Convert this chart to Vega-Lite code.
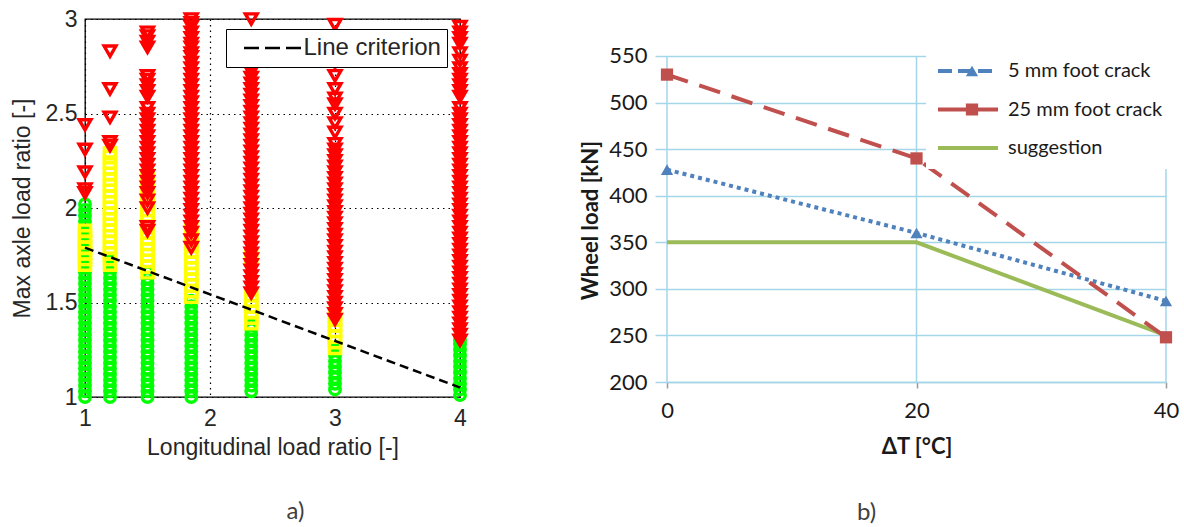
{
"$schema": "https://vega.github.io/schema/vega-lite/v6.json",
"autosize": {"type": "none"},
"padding": {"left": 85, "top": 19, "right": 1099, "bottom": 508},
"background": "white",
"bounds": "flush",
"spacing": 207,
"config": {"view": {"stroke": null}},
"resolve": {"scale": {"color": "independent", "shape": "independent", "size": "independent", "fill": "independent", "stroke": "independent"}},
"hconcat": [
{
"width": 375, "height": 378,
"view": {"stroke": "black", "strokeWidth": 1.3},
"title": {"text": "a)", "orient": "bottom", "anchor": "middle", "dx": 23, "offset": 41, "font": "Lato", "fontSize": 24, "fontWeight": "normal", "color": "#404040"},
"layer": [
{
"data": {"values": [
{"x":1,"y":1,"c":"g"},{"x":1,"y":1.03,"c":"g"},{"x":1,"y":1.06,"c":"g"},{"x":1,"y":1.09,"c":"g"},{"x":1,"y":1.12,"c":"g"},{"x":1,"y":1.15,"c":"g"},{"x":1,"y":1.18,"c":"g"},{"x":1,"y":1.21,"c":"g"},{"x":1,"y":1.24,"c":"g"},{"x":1,"y":1.27,"c":"g"},{"x":1,"y":1.3,"c":"g"},{"x":1,"y":1.33,"c":"g"},{"x":1,"y":1.36,"c":"g"},{"x":1,"y":1.39,"c":"g"},{"x":1,"y":1.42,"c":"g"},{"x":1,"y":1.45,"c":"g"},{"x":1,"y":1.48,"c":"g"},{"x":1,"y":1.51,"c":"g"},{"x":1,"y":1.54,"c":"g"},{"x":1,"y":1.57,"c":"g"},{"x":1,"y":1.6,"c":"g"},{"x":1,"y":1.63,"c":"g"},{"x":1,"y":1.66,"c":"g"},{"x":1,"y":1.69,"c":"g"},{"x":1,"y":1.72,"c":"g"},{"x":1,"y":1.75,"c":"g"},{"x":1,"y":1.78,"c":"g"},{"x":1,"y":1.81,"c":"g"},{"x":1,"y":1.84,"c":"g"},{"x":1,"y":1.87,"c":"g"},{"x":1,"y":1.9,"c":"g"},{"x":1,"y":1.93,"c":"g"},{"x":1,"y":1.96,"c":"g"},{"x":1,"y":1.99,"c":"g"},{"x":1,"y":2.02,"c":"g"},
{"x":1.2,"y":1,"c":"g"},{"x":1.2,"y":1.03,"c":"g"},{"x":1.2,"y":1.06,"c":"g"},{"x":1.2,"y":1.09,"c":"g"},{"x":1.2,"y":1.12,"c":"g"},{"x":1.2,"y":1.15,"c":"g"},{"x":1.2,"y":1.18,"c":"g"},{"x":1.2,"y":1.21,"c":"g"},{"x":1.2,"y":1.24,"c":"g"},{"x":1.2,"y":1.27,"c":"g"},{"x":1.2,"y":1.3,"c":"g"},{"x":1.2,"y":1.33,"c":"g"},{"x":1.2,"y":1.36,"c":"g"},{"x":1.2,"y":1.39,"c":"g"},{"x":1.2,"y":1.42,"c":"g"},{"x":1.2,"y":1.45,"c":"g"},{"x":1.2,"y":1.48,"c":"g"},{"x":1.2,"y":1.51,"c":"g"},{"x":1.2,"y":1.54,"c":"g"},{"x":1.2,"y":1.57,"c":"g"},{"x":1.2,"y":1.6,"c":"g"},{"x":1.2,"y":1.63,"c":"g"},{"x":1.2,"y":1.66,"c":"g"},{"x":1.2,"y":1.69,"c":"g"},{"x":1.2,"y":1.72,"c":"g"},
{"x":1.5,"y":1,"c":"g"},{"x":1.5,"y":1.03,"c":"g"},{"x":1.5,"y":1.06,"c":"g"},{"x":1.5,"y":1.09,"c":"g"},{"x":1.5,"y":1.12,"c":"g"},{"x":1.5,"y":1.15,"c":"g"},{"x":1.5,"y":1.18,"c":"g"},{"x":1.5,"y":1.21,"c":"g"},{"x":1.5,"y":1.24,"c":"g"},{"x":1.5,"y":1.27,"c":"g"},{"x":1.5,"y":1.3,"c":"g"},{"x":1.5,"y":1.33,"c":"g"},{"x":1.5,"y":1.36,"c":"g"},{"x":1.5,"y":1.39,"c":"g"},{"x":1.5,"y":1.42,"c":"g"},{"x":1.5,"y":1.45,"c":"g"},{"x":1.5,"y":1.48,"c":"g"},{"x":1.5,"y":1.51,"c":"g"},{"x":1.5,"y":1.54,"c":"g"},{"x":1.5,"y":1.57,"c":"g"},{"x":1.5,"y":1.6,"c":"g"},{"x":1.5,"y":1.63,"c":"g"},{"x":1.5,"y":1.66,"c":"g"},
{"x":1.85,"y":1,"c":"g"},{"x":1.85,"y":1.03,"c":"g"},{"x":1.85,"y":1.06,"c":"g"},{"x":1.85,"y":1.09,"c":"g"},{"x":1.85,"y":1.12,"c":"g"},{"x":1.85,"y":1.15,"c":"g"},{"x":1.85,"y":1.18,"c":"g"},{"x":1.85,"y":1.21,"c":"g"},{"x":1.85,"y":1.24,"c":"g"},{"x":1.85,"y":1.27,"c":"g"},{"x":1.85,"y":1.3,"c":"g"},{"x":1.85,"y":1.33,"c":"g"},{"x":1.85,"y":1.36,"c":"g"},{"x":1.85,"y":1.39,"c":"g"},{"x":1.85,"y":1.42,"c":"g"},{"x":1.85,"y":1.45,"c":"g"},{"x":1.85,"y":1.48,"c":"g"},{"x":1.85,"y":1.51,"c":"g"},
{"x":2.33,"y":1.03,"c":"g"},{"x":2.33,"y":1.06,"c":"g"},{"x":2.33,"y":1.09,"c":"g"},{"x":2.33,"y":1.12,"c":"g"},{"x":2.33,"y":1.15,"c":"g"},{"x":2.33,"y":1.18,"c":"g"},{"x":2.33,"y":1.21,"c":"g"},{"x":2.33,"y":1.24,"c":"g"},{"x":2.33,"y":1.27,"c":"g"},{"x":2.33,"y":1.3,"c":"g"},{"x":2.33,"y":1.33,"c":"g"},{"x":2.33,"y":1.36,"c":"g"},{"x":2.33,"y":1.38,"c":"g"},
{"x":3,"y":1.04,"c":"g"},{"x":3,"y":1.07,"c":"g"},{"x":3,"y":1.1,"c":"g"},{"x":3,"y":1.13,"c":"g"},{"x":3,"y":1.16,"c":"g"},{"x":3,"y":1.19,"c":"g"},{"x":3,"y":1.22,"c":"g"},{"x":3,"y":1.25,"c":"g"},
{"x":4,"y":1.01,"c":"g"},{"x":4,"y":1.04,"c":"g"},{"x":4,"y":1.07,"c":"g"},{"x":4,"y":1.1,"c":"g"},{"x":4,"y":1.13,"c":"g"},{"x":4,"y":1.16,"c":"g"},{"x":4,"y":1.19,"c":"g"},{"x":4,"y":1.22,"c":"g"},{"x":4,"y":1.25,"c":"g"},{"x":4,"y":1.28,"c":"g"},{"x":4,"y":1.3,"c":"g"},
{"x":1,"y":1.7,"c":"y"},{"x":1,"y":1.73,"c":"y"},{"x":1,"y":1.76,"c":"y"},{"x":1,"y":1.79,"c":"y"},{"x":1,"y":1.82,"c":"y"},{"x":1,"y":1.85,"c":"y"},{"x":1,"y":1.88,"c":"y"},
{"x":1.2,"y":1.7,"c":"y"},{"x":1.2,"y":1.73,"c":"y"},{"x":1.2,"y":1.76,"c":"y"},{"x":1.2,"y":1.79,"c":"y"},{"x":1.2,"y":1.82,"c":"y"},{"x":1.2,"y":1.85,"c":"y"},{"x":1.2,"y":1.88,"c":"y"},{"x":1.2,"y":1.91,"c":"y"},{"x":1.2,"y":1.94,"c":"y"},{"x":1.2,"y":1.97,"c":"y"},{"x":1.2,"y":2,"c":"y"},{"x":1.2,"y":2.03,"c":"y"},{"x":1.2,"y":2.06,"c":"y"},{"x":1.2,"y":2.09,"c":"y"},{"x":1.2,"y":2.12,"c":"y"},{"x":1.2,"y":2.15,"c":"y"},{"x":1.2,"y":2.18,"c":"y"},{"x":1.2,"y":2.21,"c":"y"},{"x":1.2,"y":2.24,"c":"y"},{"x":1.2,"y":2.27,"c":"y"},{"x":1.2,"y":2.29,"c":"y"},
{"x":1.5,"y":1.66,"c":"y"},{"x":1.5,"y":1.69,"c":"y"},{"x":1.5,"y":1.72,"c":"y"},{"x":1.5,"y":1.75,"c":"y"},{"x":1.5,"y":1.78,"c":"y"},{"x":1.5,"y":1.81,"c":"y"},{"x":1.5,"y":1.84,"c":"y"},{"x":1.5,"y":1.87,"c":"y"},{"x":1.5,"y":1.9,"c":"y"},{"x":1.5,"y":1.93,"c":"y"},{"x":1.5,"y":1.96,"c":"y"},{"x":1.5,"y":1.99,"c":"y"},{"x":1.5,"y":2.02,"c":"y"},{"x":1.5,"y":2.05,"c":"y"},{"x":1.5,"y":2.08,"c":"y"},{"x":1.5,"y":2.11,"c":"y"},{"x":1.5,"y":2.14,"c":"y"},{"x":1.5,"y":2.17,"c":"y"},
{"x":1.85,"y":1.53,"c":"y"},{"x":1.85,"y":1.56,"c":"y"},{"x":1.85,"y":1.59,"c":"y"},{"x":1.85,"y":1.62,"c":"y"},{"x":1.85,"y":1.65,"c":"y"},{"x":1.85,"y":1.68,"c":"y"},{"x":1.85,"y":1.71,"c":"y"},{"x":1.85,"y":1.74,"c":"y"},{"x":1.85,"y":1.77,"c":"y"},{"x":1.85,"y":1.8,"c":"y"},{"x":1.85,"y":1.83,"c":"y"},{"x":1.85,"y":1.86,"c":"y"},{"x":1.85,"y":1.89,"c":"y"},
{"x":2.33,"y":1.39,"c":"y"},{"x":2.33,"y":1.42,"c":"y"},{"x":2.33,"y":1.45,"c":"y"},{"x":2.33,"y":1.48,"c":"y"},{"x":2.33,"y":1.51,"c":"y"},{"x":2.33,"y":1.54,"c":"y"},{"x":2.33,"y":1.74,"c":"y"},
{"x":3,"y":1.26,"c":"y"},{"x":3,"y":1.29,"c":"y"},{"x":3,"y":1.32,"c":"y"},{"x":3,"y":1.35,"c":"y"},{"x":3,"y":1.38,"c":"y"},{"x":3,"y":1.41,"c":"y"},{"x":3,"y":1.44,"c":"y"},
{"x":1,"y":2.08,"c":"r"},{"x":1,"y":2.1,"c":"r"},{"x":1,"y":2.19,"c":"r"},{"x":1,"y":2.31,"c":"r"},{"x":1,"y":2.44,"c":"r"},
{"x":1.2,"y":2.33,"c":"r"},{"x":1.2,"y":2.35,"c":"r"},{"x":1.2,"y":2.48,"c":"r"},{"x":1.2,"y":2.63,"c":"r"},{"x":1.2,"y":2.83,"c":"r"},
{"x":1.5,"y":1.88,"c":"r"},{"x":1.5,"y":1.9,"c":"r"},{"x":1.5,"y":2,"c":"r"},{"x":1.5,"y":2.04,"c":"r"},{"x":1.5,"y":2.08,"c":"r"},{"x":1.5,"y":2.11,"c":"r"},{"x":1.5,"y":2.14,"c":"r"},{"x":1.5,"y":2.17,"c":"r"},{"x":1.5,"y":2.2,"c":"r"},{"x":1.5,"y":2.23,"c":"r"},{"x":1.5,"y":2.26,"c":"r"},{"x":1.5,"y":2.29,"c":"r"},{"x":1.5,"y":2.32,"c":"r"},{"x":1.5,"y":2.35,"c":"r"},{"x":1.5,"y":2.38,"c":"r"},{"x":1.5,"y":2.41,"c":"r"},{"x":1.5,"y":2.44,"c":"r"},{"x":1.5,"y":2.47,"c":"r"},{"x":1.5,"y":2.5,"c":"r"},{"x":1.5,"y":2.53,"c":"r"},{"x":1.5,"y":2.59,"c":"r"},{"x":1.5,"y":2.62,"c":"r"},{"x":1.5,"y":2.65,"c":"r"},{"x":1.5,"y":2.68,"c":"r"},{"x":1.5,"y":2.7,"c":"r"},{"x":1.5,"y":2.85,"c":"r"},{"x":1.5,"y":2.88,"c":"r"},{"x":1.5,"y":2.91,"c":"r"},{"x":1.5,"y":2.93,"c":"r"},
{"x":1.85,"y":1.79,"c":"r"},{"x":1.85,"y":1.83,"c":"r"},{"x":1.85,"y":1.87,"c":"r"},{"x":1.85,"y":1.9,"c":"r"},{"x":1.85,"y":1.93,"c":"r"},{"x":1.85,"y":1.96,"c":"r"},{"x":1.85,"y":1.99,"c":"r"},{"x":1.85,"y":2.02,"c":"r"},{"x":1.85,"y":2.05,"c":"r"},{"x":1.85,"y":2.08,"c":"r"},{"x":1.85,"y":2.11,"c":"r"},{"x":1.85,"y":2.14,"c":"r"},{"x":1.85,"y":2.17,"c":"r"},{"x":1.85,"y":2.2,"c":"r"},{"x":1.85,"y":2.23,"c":"r"},{"x":1.85,"y":2.26,"c":"r"},{"x":1.85,"y":2.29,"c":"r"},{"x":1.85,"y":2.32,"c":"r"},{"x":1.85,"y":2.35,"c":"r"},{"x":1.85,"y":2.38,"c":"r"},{"x":1.85,"y":2.41,"c":"r"},{"x":1.85,"y":2.44,"c":"r"},{"x":1.85,"y":2.47,"c":"r"},{"x":1.85,"y":2.5,"c":"r"},{"x":1.85,"y":2.53,"c":"r"},{"x":1.85,"y":2.56,"c":"r"},{"x":1.85,"y":2.59,"c":"r"},{"x":1.85,"y":2.62,"c":"r"},{"x":1.85,"y":2.65,"c":"r"},{"x":1.85,"y":2.68,"c":"r"},{"x":1.85,"y":2.71,"c":"r"},{"x":1.85,"y":2.74,"c":"r"},{"x":1.85,"y":2.77,"c":"r"},{"x":1.85,"y":2.8,"c":"r"},{"x":1.85,"y":2.82,"c":"r"},{"x":1.85,"y":2.85,"c":"r"},{"x":1.85,"y":2.87,"c":"r"},{"x":1.85,"y":2.9,"c":"r"},{"x":1.85,"y":2.93,"c":"r"},{"x":1.85,"y":2.96,"c":"r"},{"x":1.85,"y":2.98,"c":"r"},{"x":1.85,"y":3,"c":"r"},
{"x":2.33,"y":1.55,"c":"r"},{"x":2.33,"y":1.58,"c":"r"},{"x":2.33,"y":1.61,"c":"r"},{"x":2.33,"y":1.64,"c":"r"},{"x":2.33,"y":1.67,"c":"r"},{"x":2.33,"y":1.7,"c":"r"},{"x":2.33,"y":1.73,"c":"r"},{"x":2.33,"y":1.76,"c":"r"},{"x":2.33,"y":1.79,"c":"r"},{"x":2.33,"y":1.82,"c":"r"},{"x":2.33,"y":1.85,"c":"r"},{"x":2.33,"y":1.88,"c":"r"},{"x":2.33,"y":1.91,"c":"r"},{"x":2.33,"y":1.94,"c":"r"},{"x":2.33,"y":1.97,"c":"r"},{"x":2.33,"y":2,"c":"r"},{"x":2.33,"y":2.03,"c":"r"},{"x":2.33,"y":2.06,"c":"r"},{"x":2.33,"y":2.09,"c":"r"},{"x":2.33,"y":2.12,"c":"r"},{"x":2.33,"y":2.15,"c":"r"},{"x":2.33,"y":2.18,"c":"r"},{"x":2.33,"y":2.21,"c":"r"},{"x":2.33,"y":2.24,"c":"r"},{"x":2.33,"y":2.27,"c":"r"},{"x":2.33,"y":2.3,"c":"r"},{"x":2.33,"y":2.33,"c":"r"},{"x":2.33,"y":2.36,"c":"r"},{"x":2.33,"y":2.39,"c":"r"},{"x":2.33,"y":2.42,"c":"r"},{"x":2.33,"y":2.45,"c":"r"},{"x":2.33,"y":2.48,"c":"r"},{"x":2.33,"y":2.51,"c":"r"},{"x":2.33,"y":2.54,"c":"r"},{"x":2.33,"y":2.57,"c":"r"},{"x":2.33,"y":2.6,"c":"r"},{"x":2.33,"y":2.63,"c":"r"},{"x":2.33,"y":2.66,"c":"r"},{"x":2.33,"y":2.69,"c":"r"},{"x":2.33,"y":2.72,"c":"r"},{"x":2.33,"y":2.75,"c":"r"},{"x":2.33,"y":2.77,"c":"r"},{"x":2.33,"y":3,"c":"r"},
{"x":3,"y":1.41,"c":"r"},{"x":3,"y":1.44,"c":"r"},{"x":3,"y":1.47,"c":"r"},{"x":3,"y":1.5,"c":"r"},{"x":3,"y":1.53,"c":"r"},{"x":3,"y":1.56,"c":"r"},{"x":3,"y":1.59,"c":"r"},{"x":3,"y":1.62,"c":"r"},{"x":3,"y":1.65,"c":"r"},{"x":3,"y":1.68,"c":"r"},{"x":3,"y":1.71,"c":"r"},{"x":3,"y":1.74,"c":"r"},{"x":3,"y":1.77,"c":"r"},{"x":3,"y":1.8,"c":"r"},{"x":3,"y":1.83,"c":"r"},{"x":3,"y":1.86,"c":"r"},{"x":3,"y":1.89,"c":"r"},{"x":3,"y":1.92,"c":"r"},{"x":3,"y":1.95,"c":"r"},{"x":3,"y":1.98,"c":"r"},{"x":3,"y":2.01,"c":"r"},{"x":3,"y":2.04,"c":"r"},{"x":3,"y":2.07,"c":"r"},{"x":3,"y":2.1,"c":"r"},{"x":3,"y":2.13,"c":"r"},{"x":3,"y":2.16,"c":"r"},{"x":3,"y":2.19,"c":"r"},{"x":3,"y":2.22,"c":"r"},{"x":3,"y":2.25,"c":"r"},{"x":3,"y":2.28,"c":"r"},{"x":3,"y":2.31,"c":"r"},{"x":3,"y":2.34,"c":"r"},{"x":3,"y":2.4,"c":"r"},{"x":3,"y":2.45,"c":"r"},{"x":3,"y":2.5,"c":"r"},{"x":3,"y":2.55,"c":"r"},{"x":3,"y":2.58,"c":"r"},{"x":3,"y":2.63,"c":"r"},{"x":3,"y":2.7,"c":"r"},{"x":3,"y":2.77,"c":"r"},{"x":3,"y":2.97,"c":"r"},
{"x":4,"y":1.3,"c":"r"},{"x":4,"y":1.33,"c":"r"},{"x":4,"y":1.36,"c":"r"},{"x":4,"y":1.39,"c":"r"},{"x":4,"y":1.42,"c":"r"},{"x":4,"y":1.45,"c":"r"},{"x":4,"y":1.48,"c":"r"},{"x":4,"y":1.51,"c":"r"},{"x":4,"y":1.54,"c":"r"},{"x":4,"y":1.57,"c":"r"},{"x":4,"y":1.6,"c":"r"},{"x":4,"y":1.63,"c":"r"},{"x":4,"y":1.66,"c":"r"},{"x":4,"y":1.69,"c":"r"},{"x":4,"y":1.72,"c":"r"},{"x":4,"y":1.75,"c":"r"},{"x":4,"y":1.78,"c":"r"},{"x":4,"y":1.81,"c":"r"},{"x":4,"y":1.84,"c":"r"},{"x":4,"y":1.87,"c":"r"},{"x":4,"y":1.9,"c":"r"},{"x":4,"y":1.93,"c":"r"},{"x":4,"y":1.96,"c":"r"},{"x":4,"y":1.99,"c":"r"},{"x":4,"y":2.02,"c":"r"},{"x":4,"y":2.05,"c":"r"},{"x":4,"y":2.08,"c":"r"},{"x":4,"y":2.11,"c":"r"},{"x":4,"y":2.14,"c":"r"},{"x":4,"y":2.17,"c":"r"},{"x":4,"y":2.2,"c":"r"},{"x":4,"y":2.23,"c":"r"},{"x":4,"y":2.26,"c":"r"},{"x":4,"y":2.29,"c":"r"},{"x":4,"y":2.32,"c":"r"},{"x":4,"y":2.35,"c":"r"},{"x":4,"y":2.38,"c":"r"},{"x":4,"y":2.41,"c":"r"},{"x":4,"y":2.44,"c":"r"},{"x":4,"y":2.47,"c":"r"},{"x":4,"y":2.5,"c":"r"},{"x":4,"y":2.53,"c":"r"},{"x":4,"y":2.59,"c":"r"},{"x":4,"y":2.62,"c":"r"},{"x":4,"y":2.65,"c":"r"},{"x":4,"y":2.68,"c":"r"},{"x":4,"y":2.71,"c":"r"},{"x":4,"y":2.74,"c":"r"},{"x":4,"y":2.78,"c":"r"},{"x":4,"y":2.82,"c":"r"},{"x":4,"y":2.87,"c":"r"},{"x":4,"y":2.9,"c":"r"},{"x":4,"y":2.93,"c":"r"},{"x":4,"y":2.96,"c":"r"}
]},
"mark": {"type": "point", "filled": false, "clip": false, "strokeWidth": 3.4, "opacity": 1},
"encoding": {
"x": {"field": "x", "type": "quantitative", "scale": {"domain": [1, 4], "nice": false, "zero": false},
"axis": {"values": [1, 2, 3, 4], "labelExpr": "datum.value", "title": "Longitudinal load ratio [-]", "grid": true, "gridDash": [1.5, 4], "gridColor": "#000000", "gridWidth": 1.2, "domain": false, "ticks": false, "labelFont": "Liberation Sans", "labelFontSize": 23, "labelColor": "#262626", "labelPadding": 10, "labelFlush": false, "labelOverlap": false, "titleFont": "Liberation Sans", "titleFontSize": 23, "titleFontWeight": "normal", "titleColor": "#262626", "titlePadding": 6}},
"y": {"field": "y", "type": "quantitative", "scale": {"domain": [1, 3], "nice": false, "zero": false},
"axis": {"values": [1, 1.5, 2, 2.5, 3], "labelExpr": "datum.value", "title": "Max axle load ratio [-]", "grid": true, "gridDash": [1.5, 4], "gridColor": "#000000", "gridWidth": 1.2, "domain": false, "ticks": false, "labelFont": "Liberation Sans", "labelFontSize": 23, "labelColor": "#262626", "labelPadding": 8, "labelFlush": false, "labelOverlap": false, "titleFont": "Liberation Sans", "titleFontSize": 23, "titleFontWeight": "normal", "titleColor": "#262626", "titleX": -63, "titleBaseline": "middle"}},
"color": {"field": "c", "type": "nominal", "scale": {"domain": ["g", "y", "r"], "range": ["#00FF00", "#FFFF00", "#FF0000"]}, "legend": null},
"shape": {"field": "c", "type": "nominal", "scale": {"domain": ["g", "y", "r"], "range": ["circle", "square", "triangle-down"]}, "legend": null},
"size": {"field": "c", "type": "nominal", "scale": {"domain": ["g", "y", "r"], "range": [110, 140, 235]}, "legend": null}
}
},
{
"data": {"values": [{"x": 1, "y": 1.79, "n": "Line criterion"}, {"x": 4, "y": 1.05, "n": "Line criterion"}]},
"mark": {"type": "line", "strokeDash": [9, 5], "strokeWidth": 2.5},
"encoding": {
"x": {"field": "x", "type": "quantitative"},
"y": {"field": "y", "type": "quantitative"},
"color": {"field": "n", "type": "nominal", "scale": {"domain": ["Line criterion"], "range": ["#000000"]},
"legend": {"orient": "none", "legendX": 141, "legendY": 10, "title": null, "padding": 5.5, "fillColor": "white", "strokeColor": "black", "symbolType": "stroke", "symbolSize": 4624, "symbolStrokeWidth": 2.5, "symbolDash": [15, 6, 15, 6, 15, 11], "symbolDashOffset": 57, "symbolOffset": 0, "labelFont": "Liberation Sans", "labelFontSize": 24, "labelColor": "#262626", "labelOffset": 1, "clipHeight": 27}}
}
}
],
"resolve": {"scale": {"color": "independent"}}
},
{
"width": 499, "height": 363,
"title": {"text": "b)", "orient": "bottom", "anchor": "middle", "dx": -50, "offset": 44, "font": "Lato", "fontSize": 24, "fontWeight": "normal", "color": "#404040"},
"data": {"values": [
{"t": 0, "w": 428, "s": "5 mm foot crack"}, {"t": 20, "w": 360, "s": "5 mm foot crack"}, {"t": 40, "w": 287, "s": "5 mm foot crack"},
{"t": 0, "w": 530, "s": "25 mm foot crack"}, {"t": 20, "w": 440, "s": "25 mm foot crack"}, {"t": 40, "w": 248, "s": "25 mm foot crack"},
{"t": 0, "w": 350, "s": "suggestion"}, {"t": 20, "w": 350, "s": "suggestion"}, {"t": 40, "w": 250, "s": "suggestion"}
]},
"layer": [
{
"data": {"values": [{"g": 0}, {"g": 20}, {"g": 40}]},
"mark": {"type": "rule", "color": "#A5D5E8", "strokeWidth": 1.5},
"encoding": {
"x": {"field": "g", "type": "quantitative"},
"y": {"datum": 200, "type": "quantitative"},
"y2": {"datum": 550}
}
},
{
"transform": [{"filter": "datum.s === 'suggestion'"}],
"mark": {"type": "line", "strokeWidth": 4, "strokeCap": "butt"},
"encoding": {
"x": {"field": "t", "type": "quantitative", "scale": {"domain": [0, 40], "nice": false, "zero": false},
"axis": {"values": [0, 20, 40], "title": "ΔT [°C]", "grid": false, "domainColor": "#A5D5E8", "domainWidth": 1.5, "tickColor": "#9a9a9a", "tickSize": 6, "tickWidth": 1.5, "labelFont": "Lato", "labelFontSize": 22, "labelColor": "#1a1a1a", "labelPadding": 12, "labelFlush": false, "labelOverlap": false, "titleFont": "Lato", "titleFontSize": 22, "titleFontWeight": "bold", "titleColor": "#1a1a1a", "titlePadding": 15}},
"y": {"field": "w", "type": "quantitative", "scale": {"domain": [200, 589.7], "nice": false, "zero": false},
"axis": {"values": [200, 250, 300, 350, 400, 450, 500, 550], "title": "Wheel load [kN]", "grid": true, "gridColor": "#A5D5E8", "gridWidth": 1.5, "domain": false, "tickColor": "#A5D5E8", "tickSize": 12, "tickWidth": 1.5, "labelFont": "Lato", "labelFontSize": 22, "labelColor": "#1a1a1a", "labelPadding": 8, "labelOverlap": false, "titleFont": "Lato", "titleFontSize": 22, "titleFontWeight": "bold", "titleColor": "#1a1a1a", "titleX": -77, "titleY": 201, "titleBaseline": "middle",
"encode": {"ticks": {"update": {"opacity": {"signal": "datum.value === 200 ? 0 : 1"}}}}}},
"stroke": {"field": "s", "type": "nominal", "scale": {"domain": ["5 mm foot crack", "25 mm foot crack", "suggestion"], "range": ["#4F81BD", "#C0504D", "#9BBB59"]},
"legend": {"orient": "none", "legendX": 259, "legendY": 31, "title": null, "padding": 10, "fillColor": "white", "symbolType": "stroke", "symbolSize": 3600, "symbolStrokeWidth": 4, "labelFont": "Lato", "labelFontSize": 20, "labelColor": "#1a1a1a", "labelOffset": 8, "rowPadding": 16.5, "clipHeight": 22, "zindex": 1,
"encode": {"symbols": {"update": {"strokeDash": {"signal": "datum.value === '5 mm foot crack' ? [14,6] : [1,0]"}}}}}}
}
},
{
"transform": [{"filter": "datum.s === '5 mm foot crack'"}],
"mark": {"type": "line", "strokeWidth": 4, "strokeCap": "butt", "strokeDash": [4, 4]},
"encoding": {
"x": {"field": "t", "type": "quantitative"},
"y": {"field": "w", "type": "quantitative"},
"stroke": {"field": "s", "type": "nominal"}
}
},
{
"transform": [{"filter": "datum.s === '25 mm foot crack'"}],
"mark": {"type": "line", "strokeWidth": 4, "strokeCap": "butt", "strokeDash": [22, 12]},
"encoding": {
"x": {"field": "t", "type": "quantitative"},
"y": {"field": "w", "type": "quantitative"},
"stroke": {"field": "s", "type": "nominal"}
}
},
{
"transform": [{"filter": "datum.s !== 'suggestion'"}],
"mark": {"type": "point", "filled": true, "opacity": 1, "size": 150},
"encoding": {
"x": {"field": "t", "type": "quantitative"},
"y": {"field": "w", "type": "quantitative"},
"fill": {"field": "s", "type": "nominal", "scale": {"domain": ["5 mm foot crack", "25 mm foot crack"], "range": ["#4F81BD", "#C0504D"]},
"legend": {"orient": "none", "legendX": 285, "legendY": 31, "title": null, "padding": 10, "symbolSize": 150, "symbolStrokeWidth": 0, "labelFont": "Lato", "labelFontSize": 20, "labelExpr": "''", "rowPadding": 16.5, "clipHeight": 22, "zindex": 2}},
"shape": {"field": "s", "type": "nominal", "scale": {"domain": ["5 mm foot crack", "25 mm foot crack"], "range": ["triangle-up", "square"]},
"legend": {"orient": "none", "legendX": 285, "legendY": 31, "title": null, "padding": 10, "symbolSize": 150, "symbolStrokeWidth": 0, "labelFont": "Lato", "labelFontSize": 20, "labelExpr": "''", "rowPadding": 16.5, "clipHeight": 22, "zindex": 2}}
}
}
]
}
]
}
